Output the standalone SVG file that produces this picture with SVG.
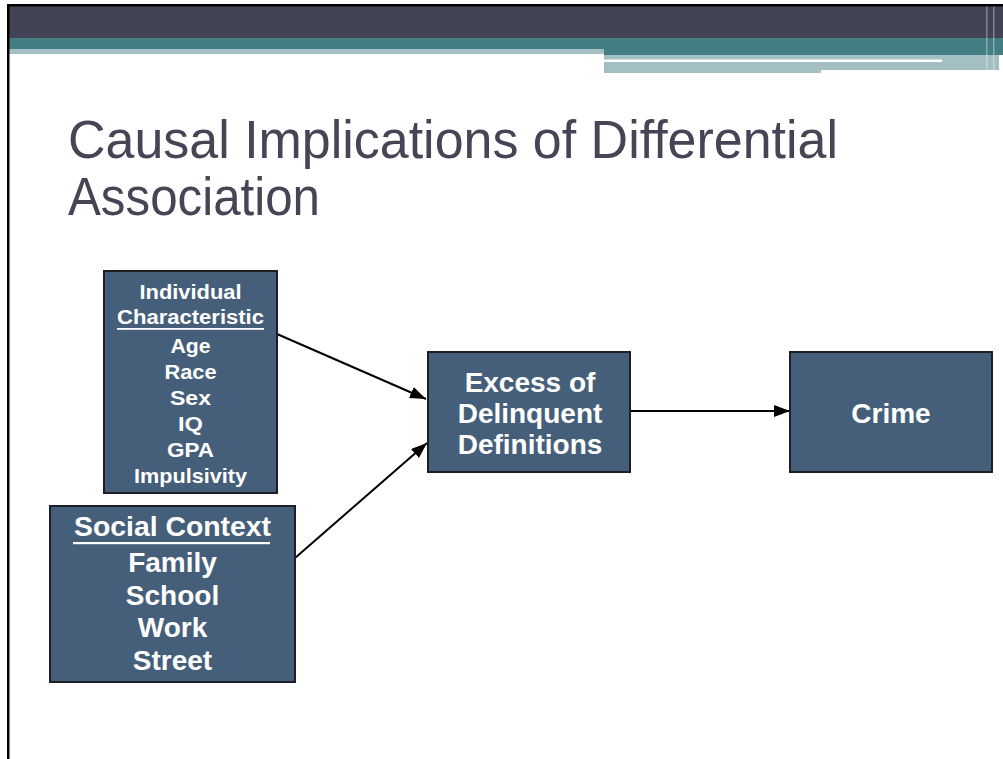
<svg xmlns="http://www.w3.org/2000/svg" width="1003" height="759" viewBox="0 0 1003 759">
<style>
.box{fill:#455f7a;stroke:#1c1f26;stroke-width:2}
.t{fill:#ffffff;font-family:"Liberation Sans",Arial,sans-serif;font-weight:bold;text-anchor:middle}
.s1{font-size:20px}
.s2{font-size:28px}
.title{fill:#454556;font-family:"Liberation Sans",Arial,sans-serif;font-size:54px}
.conn{stroke:#000;stroke-width:2;fill:none}
</style>
<defs>
<marker id="ah" viewBox="0 0 10 10" refX="10" refY="5" markerWidth="16" markerHeight="12" markerUnits="userSpaceOnUse" orient="auto" preserveAspectRatio="none">
<path d="M0,0 L10,5 L0,10 z" fill="#000"/>
</marker>
</defs>
<rect x="0" y="0" width="1003" height="759" fill="#ffffff"/>
<g id="header">
<rect x="9" y="6" width="994" height="32" fill="#434356"/>
<rect x="9" y="38" width="994" height="11" fill="#437e84"/>
<rect x="604" y="49" width="399" height="6" fill="#437e84"/>
<rect x="9" y="49" width="595" height="5" fill="#a3bfc2"/>
<rect x="604" y="55" width="217" height="18" fill="#a3bfc2"/>
<rect x="821" y="55" width="178" height="15" fill="#a3bfc2"/>
<rect x="604" y="59.5" width="338" height="2.5" fill="#ffffff"/>
<rect x="986" y="6" width="1.5" height="64" fill="#ffffff" opacity="0.35"/>
<rect x="993" y="6" width="1.5" height="64" fill="#ffffff" opacity="0.35"/>
<rect x="7" y="4" width="996" height="2.5" fill="#000"/>
<rect x="7" y="4" width="2.5" height="755" fill="#000"/>
</g>
<g id="title">
<text class="title" x="68" y="158" textLength="770" lengthAdjust="spacingAndGlyphs">Causal Implications of Differential</text>
<text class="title" x="68" y="215" textLength="252" lengthAdjust="spacingAndGlyphs">Association</text>
</g>
<g id="connectors">
<line class="conn" x1="277" y1="334" x2="426" y2="399" marker-end="url(#ah)"/>
<line class="conn" x1="295" y1="558" x2="427" y2="443" marker-end="url(#ah)"/>
<line class="conn" x1="630" y1="411" x2="790" y2="411" marker-end="url(#ah)"/>
</g>
<g id="individual">
<rect class="box" x="104" y="271" width="173" height="222"/>
<text class="t s1" x="190.5" y="299" textLength="102" lengthAdjust="spacingAndGlyphs">Individual</text>
<text class="t s1" x="190.5" y="324" textLength="147" lengthAdjust="spacingAndGlyphs">Characteristic</text>
<rect x="117" y="328" width="147" height="1.8" fill="#ffffff"/>
<text class="t s1" x="190.5" y="353" textLength="40" lengthAdjust="spacingAndGlyphs">Age</text>
<text class="t s1" x="190.5" y="379" textLength="52" lengthAdjust="spacingAndGlyphs">Race</text>
<text class="t s1" x="190.5" y="405" textLength="41" lengthAdjust="spacingAndGlyphs">Sex</text>
<text class="t s1" x="190.5" y="431" textLength="25" lengthAdjust="spacingAndGlyphs">IQ</text>
<text class="t s1" x="190.5" y="457" textLength="47" lengthAdjust="spacingAndGlyphs">GPA</text>
<text class="t s1" x="190.5" y="483" textLength="113" lengthAdjust="spacingAndGlyphs">Impulsivity</text>
</g>
<g id="social">
<rect class="box" x="50" y="506" width="245" height="176"/>
<text class="t s2" x="172.5" y="536" textLength="197" lengthAdjust="spacingAndGlyphs">Social Context</text>
<rect x="73" y="542" width="197" height="2.2" fill="#ffffff"/>
<text class="t s2" x="172.5" y="572">Family</text>
<text class="t s2" x="172.5" y="605">School</text>
<text class="t s2" x="172.5" y="637">Work</text>
<text class="t s2" x="172.5" y="670">Street</text>
</g>
<g id="excess">
<rect class="box" x="428" y="352" width="202" height="120"/>
<text class="t s2" x="530" y="392">Excess of</text>
<text class="t s2" x="530" y="423">Delinquent</text>
<text class="t s2" x="530" y="454">Definitions</text>
</g>
<g id="crime">
<rect class="box" x="790" y="352" width="202" height="120"/>
<text class="t s2" x="891" y="423">Crime</text>
</g>
</svg>
